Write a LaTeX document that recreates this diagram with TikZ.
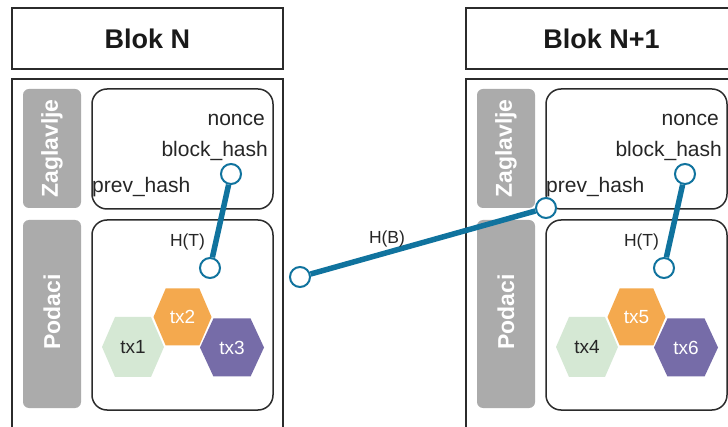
\documentclass[tikz,border=0pt]{standalone}
\usepackage{fontspec}
\setmainfont{Liberation Sans}
\definecolor{conn}{HTML}{10739E}
\definecolor{lblgray}{HTML}{ABABAB}
\definecolor{hexgreen}{HTML}{D5E8D4}
\definecolor{hexorange}{HTML}{F4A94E}
\definecolor{hexpurple}{HTML}{766CA8}
\definecolor{edgec}{HTML}{2B2B2B}
\tikzset{
  boxline/.style={draw=edgec, line width=1.6pt},
  roundline/.style={draw=edgec, line width=1.5pt, rounded corners=15pt},
  txt/.style={inner sep=0pt, text=black!85, font=\fontsize{21}{25}\selectfont},
  smalltxt/.style={inner sep=0pt, text=black!85, font=\fontsize{17.5}{21}\selectfont},
  titletxt/.style={inner sep=0pt, text=black!90, font=\bfseries\fontsize{27}{32}\selectfont},
  sidetxt/.style={inner sep=0pt, text=white, rotate=90, font=\bfseries\fontsize{23}{27}\selectfont},
  hextxt/.style={inner sep=0pt, font=\fontsize{19}{23}\selectfont},
  dot/.style={circle, draw=conn, fill=white, line width=2pt, minimum size=20pt, inner sep=0pt},
  conn/.style={draw=conn, line width=5.5pt},
}
% name, x, y, w, h, fill, textcolor, text
\newcommand\hexcell[8]{%
  \fill[#6] ({#2-#4/2},#3) -- ({#2-#4/2+0.21*#4},{#3-#5/2}) -- ({#2+#4/2-0.21*#4},{#3-#5/2})
    -- ({#2+#4/2},#3) -- ({#2+#4/2-0.21*#4},{#3+#5/2}) -- ({#2-#4/2+0.21*#4},{#3+#5/2}) -- cycle;
  \node[hextxt, text=#7] (#1) at (#2,#3) {#8};
}
% shift, prefix, title, tx a, tx b, tx c
\newcommand\blokdraw[6]{%
\begin{scope}[xshift=#1]
  \draw[boxline] (12,8) rectangle (283,69);
  \node[titletxt, anchor=base] (#2title) at (147.5,49) {#3};
  \draw[boxline] (12,440) -- (12,79) -- (283,79) -- (283,440);
  \fill[lblgray, rounded corners=6pt] (23,89) rectangle (81,208);
  \fill[lblgray, rounded corners=6pt] (23,220) rectangle (81,408);
  \node[sidetxt] (#2zag) at (52,148.5) {Zaglavlje};
  \node[sidetxt] (#2pod) at (52,312) {Podaci};
  \draw[roundline] (92,89) rectangle (273,209);
  \draw[roundline] (92,220) rectangle (273,410);
  \node[txt, anchor=base east] (#2nonce) at (265,126) {nonce};
  \node[txt, anchor=base east] (#2bhl) at (268,157) {block\_hash};
  \node[txt, anchor=base west] (#2phl) at (92,193) {prev\_hash};
  \node[smalltxt, anchor=base] (#2htl) at (187.5,247) {H(T)};
  \node[dot] (#2bh) at (231,174) {};
  \node[dot] (#2ht) at (210,268) {};
  \draw[conn] (#2bh) -- (#2ht);
  \hexcell{#2txa}{133}{347}{62}{60}{hexgreen}{black!85}{#4}
  \hexcell{#2txb}{182.5}{317}{58}{57}{hexorange}{white}{#5}
  \hexcell{#2txc}{232}{347.5}{64}{58}{hexpurple}{white}{#6}
\end{scope}}
\begin{document}
\begin{tikzpicture}[x=1pt, y=-1pt]
\useasboundingbox (0,0) rectangle (728,427);
\clip (0,0) rectangle (728,427);
\fill[white] (0,0) rectangle (728,427);
\blokdraw{0pt}{a}{Blok N}{tx1}{tx2}{tx3}
\blokdraw{454pt}{b}{Blok N+1}{tx4}{tx5}{tx6}
\node[dot] (mid) at (300,277) {};
\node[dot] (ph) at (546,208) {};
\draw[conn] (mid) -- (ph);
\node[smalltxt, anchor=base] (hb) at (387,244) {H(B)};
\end{tikzpicture}
\end{document}
